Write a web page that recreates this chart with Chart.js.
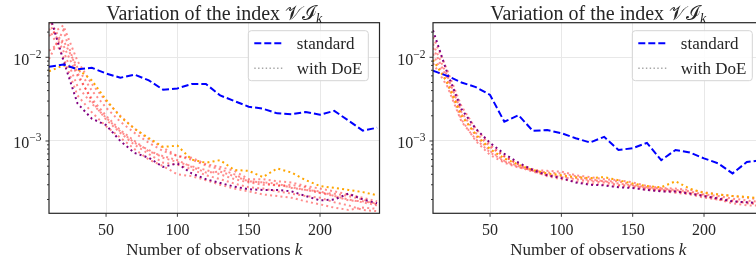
<!DOCTYPE html>
<html>
<head>
<meta charset="utf-8">
<script src="https://cdn.jsdelivr.net/npm/chart.js@4.4.1/dist/chart.umd.min.js"></script>
<style>
    html, body { margin: 0; padding: 0; background: #fff; overflow: hidden; width: 756px; height: 264px; }
    .panel { position: absolute; top: 0; width: 385px; height: 264px; }
    #left { left: 0; }
    #right { left: 384px; }
</style>
</head>
<body>
<div class="panel" id="left"><canvas id="chartLeft"></canvas></div>
<div class="panel" id="right"><canvas id="chartRight"></canvas></div>
<script>
// number of observations k
const observations = [10, 20, 30, 40, 50, 60, 70, 80, 90, 100, 110, 120, 130, 140, 150, 160, 170, 180, 190, 200, 210, 220, 230, 240];
const xTicks = [50, 100, 150, 200];
const yMajorTicks = [1e-3, 1e-2];

// left panel
const leftStandard = [7.7e-3, 8.2e-3, 7.2e-3, 7.5e-3, 6.4e-3, 5.7e-3, 6.2e-3, 5.3e-3, 4.1e-3, 4.25e-3, 4.8e-3, 4.8e-3, 3.5e-3, 3.0e-3, 2.57e-3, 2.43e-3, 2.14e-3, 2.09e-3, 2.22e-3, 2.06e-3, 2.29e-3, 1.75e-3, 1.33e-3, 1.44e-3];
const leftDoePurple = [0.034, 9.3e-3, 2.8e-3, 1.85e-3, 1.55e-3, 1.0e-3, 7.2e-4, 6.3e-4, 4.9e-4, 5.4e-4, 4.1e-4, 3.5e-4, 3.15e-4, 2.85e-4, 2.65e-4, 2.6e-4, 2.6e-4, 2.5e-4, 2.2e-4, 1.95e-4, 2.0e-4, 2.35e-4, 2.0e-4, 1.8e-4];
const leftDoeOrange = [6.8e-3, 8.0e-3, 7.3e-3, 5.3e-3, 3.1e-3, 1.95e-3, 1.4e-3, 1.08e-3, 8.5e-4, 8.8e-4, 6.0e-4, 5.5e-4, 5.9e-4, 4.5e-4, 4.4e-4, 3.7e-4, 4.7e-4, 4.2e-4, 3.4e-4, 2.9e-4, 2.75e-4, 2.6e-4, 2.45e-4, 2.25e-4];
const leftDoeRed1 = [0.026, 0.012, 4.5e-3, 2.8e-3, 1.9e-3, 1.3e-3, 9.5e-4, 7.8e-4, 6.3e-4, 5.6e-4, 5.0e-4, 4.5e-4, 4.0e-4, 3.5e-4, 3.2e-4, 3.0e-4, 3.0e-4, 2.8e-4, 2.6e-4, 2.4e-4, 2.2e-4, 2.0e-4, 1.85e-4, 1.7e-4];
const leftDoeRed2 = [0.012, 0.016, 7.5e-3, 4.0e-3, 2.5e-3, 1.7e-3, 1.25e-3, 9.5e-4, 7.6e-4, 6.6e-4, 6.3e-4, 5.3e-4, 4.9e-4, 4.4e-4, 3.5e-4, 3.5e-4, 3.3e-4, 3.2e-4, 2.9e-4, 2.7e-4, 2.5e-4, 2.3e-4, 2.1e-4, 1.9e-4];
const leftDoeRed3 = [0.029, 0.014, 6.0e-3, 3.2e-3, 2.0e-3, 1.35e-3, 1.0e-3, 7.5e-4, 6.6e-4, 5.9e-4, 4.9e-4, 4.2e-4, 4.3e-4, 3.8e-4, 3.3e-4, 3.2e-4, 3.1e-4, 2.75e-4, 2.6e-4, 2.5e-4, 2.2e-4, 1.95e-4, 1.9e-4, 1.8e-4];
const leftDoeRed4 = [0.022, 0.010, 3.5e-3, 2.2e-3, 1.5e-3, 1.1e-3, 8.0e-4, 6.0e-4, 5.0e-4, 4.0e-4, 3.8e-4, 3.4e-4, 3.0e-4, 2.7e-4, 2.5e-4, 2.3e-4, 2.2e-4, 2.1e-4, 1.9e-4, 1.75e-4, 1.6e-4, 1.5e-4, 1.6e-4, 1.55e-4];
const leftDoeRed5 = [9.5e-3, 0.021, 6.5e-3, 3.0e-3, 1.8e-3, 1.25e-3, 9.0e-4, 7.0e-4, 5.5e-4, 5.2e-4, 4.6e-4, 3.9e-4, 3.5e-4, 3.1e-4, 2.8e-4, 2.7e-4, 2.5e-4, 2.35e-4, 2.2e-4, 2.1e-4, 1.85e-4, 1.7e-4, 1.5e-4, 1.45e-4];
const leftDoeRed6 = [0.018, 0.024, 9.0e-3, 4.8e-3, 3.0e-3, 2.0e-3, 1.4e-3, 1.05e-3, 8.3e-4, 6.6e-4, 6.0e-4, 5.1e-4, 4.6e-4, 4.0e-4, 3.3e-4, 3.2e-4, 2.9e-4, 3.0e-4, 2.8e-4, 2.4e-4, 2.35e-4, 2.2e-4, 2.0e-4, 1.75e-4];

// right panel
const rightStandard = [6.9e-3, 6.0e-3, 5.0e-3, 4.4e-3, 3.55e-3, 1.7e-3, 2.03e-3, 1.32e-3, 1.35e-3, 1.24e-3, 1.08e-3, 9.6e-4, 1.12e-3, 7.8e-4, 8.2e-4, 9.5e-4, 5.9e-4, 7.8e-4, 7.3e-4, 6.2e-4, 5.4e-4, 4.1e-4, 5.6e-4, 5.9e-4];
const rightDoePurple = [0.021, 6.5e-3, 2.4e-3, 1.4e-3, 9.5e-4, 7.0e-4, 5.5e-4, 4.5e-4, 3.9e-4, 3.6e-4, 3.2e-4, 3.0e-4, 2.95e-4, 2.8e-4, 2.75e-4, 2.6e-4, 2.5e-4, 2.5e-4, 2.35e-4, 2.2e-4, 2.05e-4, 1.9e-4, 1.85e-4, 1.8e-4];
const rightDoeOrange = [9.3e-3, 5.0e-3, 2.0e-3, 1.2e-3, 8.0e-4, 6.2e-4, 5.2e-4, 4.5e-4, 4.1e-4, 3.9e-4, 3.7e-4, 3.6e-4, 3.7e-4, 3.4e-4, 3.1e-4, 2.9e-4, 2.8e-4, 3.3e-4, 2.7e-4, 2.4e-4, 2.3e-4, 2.2e-4, 2.15e-4, 2.05e-4];
const rightDoeRed1 = [0.013, 5.5e-3, 2.1e-3, 1.15e-3, 7.6e-4, 5.8e-4, 5.0e-4, 4.4e-4, 4.2e-4, 4.1e-4, 3.8e-4, 3.5e-4, 3.3e-4, 3.3e-4, 3.0e-4, 2.8e-4, 2.7e-4, 2.6e-4, 2.5e-4, 2.3e-4, 2.2e-4, 2.05e-4, 1.95e-4, 1.85e-4];
const rightDoeRed2 = [0.011, 4.8e-3, 1.8e-3, 1.0e-3, 6.8e-4, 5.5e-4, 4.8e-4, 4.5e-4, 4.4e-4, 4.3e-4, 3.9e-4, 3.7e-4, 3.5e-4, 3.4e-4, 3.2e-4, 2.9e-4, 2.75e-4, 2.7e-4, 2.6e-4, 2.45e-4, 2.3e-4, 2.2e-4, 2.1e-4, 2.0e-4];
const rightDoeRed3 = [0.0145, 6.0e-3, 2.2e-3, 1.25e-3, 8.5e-4, 6.5e-4, 5.3e-4, 4.6e-4, 4.0e-4, 3.7e-4, 3.5e-4, 3.3e-4, 3.2e-4, 3.0e-4, 2.9e-4, 2.7e-4, 2.6e-4, 2.5e-4, 2.4e-4, 2.25e-4, 2.1e-4, 1.95e-4, 1.8e-4, 1.75e-4];
const rightDoeRed4 = [8.5e-3, 4.5e-3, 1.7e-3, 1.05e-3, 7.3e-4, 5.7e-4, 4.9e-4, 4.3e-4, 3.9e-4, 3.8e-4, 3.6e-4, 3.4e-4, 3.3e-4, 3.1e-4, 2.95e-4, 2.75e-4, 2.6e-4, 2.55e-4, 2.4e-4, 2.2e-4, 2.0e-4, 1.8e-4, 1.7e-4, 1.7e-4];
const rightDoeRed5 = [0.0175, 7.0e-3, 2.6e-3, 1.4e-3, 9.0e-4, 6.6e-4, 5.2e-4, 4.4e-4, 3.8e-4, 3.5e-4, 3.3e-4, 3.1e-4, 3.0e-4, 2.9e-4, 2.8e-4, 2.6e-4, 2.55e-4, 2.4e-4, 2.3e-4, 2.1e-4, 2.0e-4, 1.9e-4, 1.85e-4, 1.8e-4];

const legendLabels = ['standard', 'with DoE'];
const titleText = 'Variation of the index ';
const titleIndex = '𝒱ℐ';
const xLabelText = 'Number of observations ';

const BLUE = '#0000ff';
const PURPLE = '#800080';
const ORANGE = '#ffa500';
const RED = 'rgba(255, 0, 0, 0.45)';
const INK = '#262626';
const FONT = "'Liberation Serif', 'DejaVu Serif', serif";
const Y_MIN = 1.368e-4, Y_MAX = 0.0259;
const X_MIN = 10, X_MAX = 241.7;
const DASHED = [7, 3];
const DOTTED = [2, 3.2];

Chart.defaults.font.family = FONT;
Chart.defaults.color = INK;

function isPow10(v) {
    const e = Math.log10(v);
    return Math.abs(e - Math.round(e)) < 1e-9;
}

function isNiceLog(v) {
    const e = Math.floor(Math.log10(v) + 1e-9);
    const s = v / Math.pow(10, e);
    return Math.abs(s - Math.round(s)) < 1e-6 && v > Y_MIN && v < Y_MAX;
}

function series(values, color, dash) {
    return {
        data: observations.map((k, i) => ({x: k, y: values[i]})),
        borderColor: color,
        borderDash: dash,
        borderWidth: 2,
        pointRadius: 0,
        fill: false,
        tension: 0,
        clip: 0
    };
}

// frame, tick marks, y labels, legend box, title and x label
const decorations = {
    id: 'decorations',
    afterDraw(chart) {
        const ctx = chart.ctx, a = chart.chartArea;
        const xs = chart.scales.x, ys = chart.scales.y;
        ctx.save();

        ctx.strokeStyle = INK;
        ctx.lineWidth = 0.9;
        ctx.beginPath();
        xs.ticks.forEach(t => {
            const px = xs.getPixelForValue(t.value);
            ctx.moveTo(px, a.bottom);
            ctx.lineTo(px, a.bottom + 3.5);
        });
        ys.ticks.forEach(t => {
            const py = ys.getPixelForValue(t.value);
            const len = isPow10(t.value) ? 3.5 : 2;
            ctx.moveTo(a.left, py);
            ctx.lineTo(a.left - len, py);
        });
        ctx.stroke();

        ctx.lineWidth = 1.2;
        ctx.strokeRect(a.left, a.top, a.right - a.left, a.bottom - a.top);

        // y tick labels as 10 with a raised exponent
        ctx.fillStyle = INK;
        ctx.textAlign = 'left';
        ctx.textBaseline = 'alphabetic';
        yMajorTicks.forEach(v => {
            const py = ys.getPixelForValue(v);
            const exp = '\u2212' + Math.abs(Math.round(Math.log10(v)));
            ctx.font = '11.5px ' + FONT;
            const we = ctx.measureText(exp).width;
            ctx.font = '16px ' + FONT;
            const wb = ctx.measureText('10').width;
            const right = a.left - 7.5;
            ctx.fillText('10', right - we - wb, py + 7.5);
            ctx.font = '11.5px ' + FONT;
            ctx.fillText(exp, right - we, py + 0.5);
        });

        // legend
        const lx = a.left + 199.3, ly = a.top + 8, lw = 120, lh = 50;
        ctx.beginPath();
        ctx.roundRect(lx, ly, lw, lh, 3);
        ctx.fillStyle = 'rgba(255,255,255,0.85)';
        ctx.fill();
        ctx.strokeStyle = '#d4d4d4';
        ctx.lineWidth = 1;
        ctx.stroke();

        const rows = [
            {y: ly + 12.6, color: BLUE, dash: DASHED, width: 2},
            {y: ly + 37.6, color: 'rgba(128,128,128,0.7)', dash: [1.4, 2.4], width: 1.4}
        ];
        rows.forEach((r, i) => {
            ctx.beginPath();
            ctx.setLineDash(r.dash);
            ctx.strokeStyle = r.color;
            ctx.lineWidth = r.width;
            ctx.moveTo(lx + 6, r.y);
            ctx.lineTo(lx + 36, r.y);
            ctx.stroke();
            ctx.setLineDash([]);
            ctx.fillStyle = INK;
            ctx.font = '17px ' + FONT;
            ctx.textBaseline = 'middle';
            ctx.textAlign = 'left';
            ctx.fillText(legendLabels[i], lx + 48.5, r.y + 1);
        });

        // title
        const cx = (a.left + a.right) / 2;
        ctx.textBaseline = 'alphabetic';
        ctx.textAlign = 'left';
        const f1 = '20px ' + FONT, f3 = 'italic 14px ' + FONT;
        ctx.font = f1;
        const w1 = ctx.measureText(titleText).width;
        const w2 = ctx.measureText(titleIndex).width;
        ctx.font = f3;
        const w3 = ctx.measureText('k').width;
        let tx = cx - (w1 + w2 + w3) / 2;
        ctx.fillStyle = INK;
        ctx.font = f1;
        ctx.fillText(titleText, tx, 20);
        ctx.fillText(titleIndex, tx + w1, 20);
        ctx.font = f3;
        ctx.fillText('k', tx + w1 + w2, 23);

        // x label
        ctx.font = '17px ' + FONT;
        const wl = ctx.measureText(xLabelText).width;
        ctx.font = 'italic 17px ' + FONT;
        const wk = ctx.measureText('k').width;
        tx = cx - (wl + wk) / 2;
        ctx.font = '17px ' + FONT;
        ctx.fillText(xLabelText, tx, 254.5);
        ctx.font = 'italic 17px ' + FONT;
        ctx.fillText('k', tx + wl, 254.5);

        ctx.restore();
    }
};

function makeChart(id, standard, runs) {
    const datasets = [series(standard, BLUE, DASHED)];
    runs.forEach(r => datasets.push(series(r.values, r.color, DOTTED)));
    return new Chart(document.getElementById(id).getContext('2d'), {
        type: 'line',
        data: {datasets: datasets},
        options: {
            responsive: true,
            maintainAspectRatio: false,
            animation: false,
            layout: {padding: {left: 0, right: 5.5, top: 22.7, bottom: 0}},
            plugins: {legend: {display: false}, title: {display: false}, tooltip: {enabled: false}},
            scales: {
                x: {
                    type: 'linear',
                    min: X_MIN,
                    max: X_MAX,
                    afterFit(s) { s.height = 50.7; },
                    afterBuildTicks(s) { s.ticks = xTicks.map(v => ({value: v})); },
                    grid: {drawTicks: false, color: '#e8e8e8'},
                    border: {display: false},
                    ticks: {padding: 8, maxRotation: 0, autoSkip: false, font: {size: 16}}
                },
                y: {
                    type: 'logarithmic',
                    min: Y_MIN,
                    max: Y_MAX,
                    afterFit(s) { s.width = 49; },
                    afterBuildTicks(s) { s.ticks = s.ticks.filter(t => isNiceLog(t.value)); },
                    grid: {
                        drawTicks: false,
                        color: c => (c.tick && isPow10(c.tick.value)) ? '#e8e8e8' : 'rgba(0,0,0,0)'
                    },
                    border: {display: false},
                    ticks: {display: false, autoSkip: false}
                }
            }
        },
        plugins: [decorations]
    });
}

makeChart('chartLeft', leftStandard, [
    {values: leftDoePurple, color: PURPLE},
    {values: leftDoeOrange, color: ORANGE},
    {values: leftDoeRed1, color: RED},
    {values: leftDoeRed2, color: RED},
    {values: leftDoeRed3, color: RED},
    {values: leftDoeRed4, color: RED},
    {values: leftDoeRed5, color: RED},
    {values: leftDoeRed6, color: RED}
]);

makeChart('chartRight', rightStandard, [
    {values: rightDoePurple, color: PURPLE},
    {values: rightDoeOrange, color: ORANGE},
    {values: rightDoeRed1, color: RED},
    {values: rightDoeRed2, color: RED},
    {values: rightDoeRed3, color: RED},
    {values: rightDoeRed4, color: RED},
    {values: rightDoeRed5, color: RED}
]);
</script>
</body>
</html>
